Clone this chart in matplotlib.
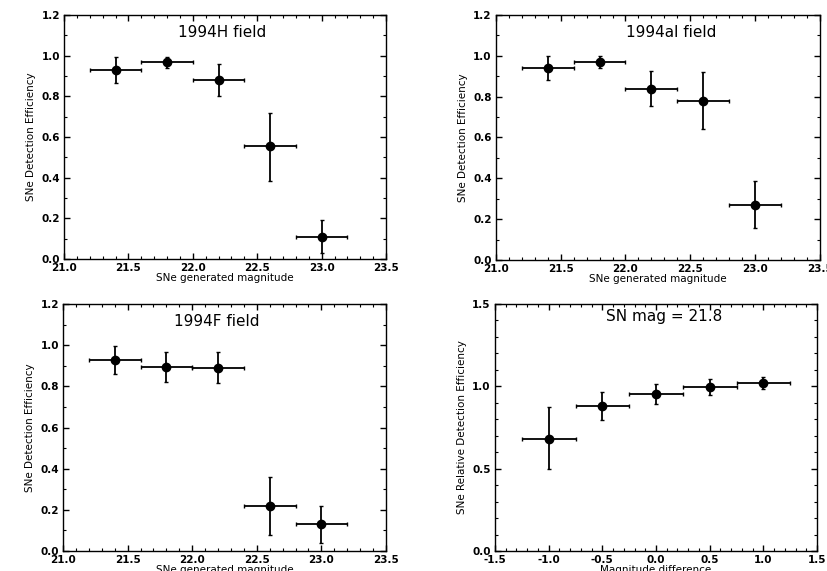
import numpy as np
import matplotlib
matplotlib.use('Agg')
import matplotlib.pyplot as plt
from matplotlib.ticker import MultipleLocator, FormatStrFormatter

# magnitude bins (centres) and half-width
mag = [21.4, 21.8, 22.2, 22.6, 23.0]
mag_halfwidth = 0.2

# 1994H field
eff_H = [0.93, 0.97, 0.88, 0.555, 0.11]
eff_H_lo = [0.065, 0.03, 0.08, 0.17, 0.08]
eff_H_hi = [0.065, 0.025, 0.08, 0.165, 0.08]

# 1994al field
eff_al = [0.94, 0.97, 0.84, 0.78, 0.27]
eff_al_lo = [0.06, 0.03, 0.085, 0.14, 0.115]
eff_al_hi = [0.06, 0.03, 0.085, 0.14, 0.115]

# 1994F field
eff_F = [0.93, 0.895, 0.89, 0.22, 0.13]
eff_F_lo = [0.068, 0.073, 0.076, 0.14, 0.09]
eff_F_hi = [0.068, 0.07, 0.075, 0.14, 0.088]

# SN mag = 21.8, relative efficiency vs magnitude difference
dmag = [-1.0, -0.5, 0.0, 0.5, 1.0]
dmag_halfwidth = 0.25
rel_eff = [0.683, 0.882, 0.953, 0.995, 1.02]
rel_eff_lo = [0.186, 0.085, 0.061, 0.046, 0.039]
rel_eff_hi = [0.189, 0.085, 0.061, 0.047, 0.038]

plt.rcParams['font.family'] = ['DejaVu Sans']
plt.rcParams['font.weight'] = 'bold'

fig = plt.figure(figsize=(8.28, 5.71), dpi=100)

ylab_font = dict(family=['Liberation Sans Narrow', 'DejaVu Sans'], weight='normal', size=7.5)
tick_size = 7.5


def panel(rect, x, xw, y, ylo, yhi, title, title_pos, xlim, ylim, ymajor, xlabel, ylabel):
    ax = fig.add_axes(rect)
    ax.errorbar(x, y, xerr=xw, yerr=[ylo, yhi], fmt='o', color='black',
                ms=6, elinewidth=1.3, capsize=1.5, capthick=1)
    ax.set_xlim(*xlim)
    ax.set_ylim(*ylim)
    ax.xaxis.set_major_locator(MultipleLocator(0.5))
    ax.xaxis.set_minor_locator(MultipleLocator(0.1))
    ax.yaxis.set_major_locator(MultipleLocator(ymajor))
    ax.yaxis.set_minor_locator(MultipleLocator(0.1))
    ax.xaxis.set_major_formatter(FormatStrFormatter('%.1f'))
    ax.yaxis.set_major_formatter(FormatStrFormatter('%.1f'))
    ax.tick_params(which='both', direction='in', top=True, right=True,
                   labelsize=tick_size)
    ax.tick_params(axis='x', pad=3)
    ax.tick_params(axis='y', pad=3)
    ax.tick_params(which='major', length=4, width=1)
    ax.tick_params(which='minor', length=2, width=0.8)
    for s in ax.spines.values():
        s.set_linewidth(1)
    ax.text(title_pos[0], title_pos[1], title, transform=ax.transAxes,
            ha='center', va='center', fontsize=11, fontweight='normal')
    ax.set_xlabel(xlabel, fontsize=7.5, labelpad=0)
    ax.set_ylabel(ylabel, fontdict=ylab_font, labelpad=4)
    return ax


panel([0.0773, 0.5464, 0.389, 0.4273], mag, mag_halfwidth, eff_H, eff_H_lo, eff_H_hi,
      '1994H field', (0.49, 0.93), (21.0, 23.5), (0.0, 1.2), 0.2,
      'SNe generated magnitude', 'SNe Detection Efficiency')
panel([0.599, 0.5447, 0.391, 0.429], mag, mag_halfwidth, eff_al, eff_al_lo, eff_al_hi,
      '1994al field', (0.54, 0.93), (21.0, 23.5), (0.0, 1.2), 0.2,
      'SNe generated magnitude', 'SNe Detection Efficiency')
panel([0.0761, 0.035, 0.390, 0.4326], mag, mag_halfwidth, eff_F, eff_F_lo, eff_F_hi,
      '1994F field', (0.477, 0.93), (21.0, 23.5), (0.0, 1.2), 0.2,
      'SNe generated magnitude', 'SNe Detection Efficiency')
panel([0.5978, 0.035, 0.389, 0.4326], dmag, dmag_halfwidth, rel_eff, rel_eff_lo, rel_eff_hi,
      'SN mag = 21.8', (0.525, 0.95), (-1.5, 1.5), (0.0, 1.5), 0.5,
      'Magnitude difference', 'SNe Relative Detection Efficiency')

fig.savefig('out.png', dpi=100)
